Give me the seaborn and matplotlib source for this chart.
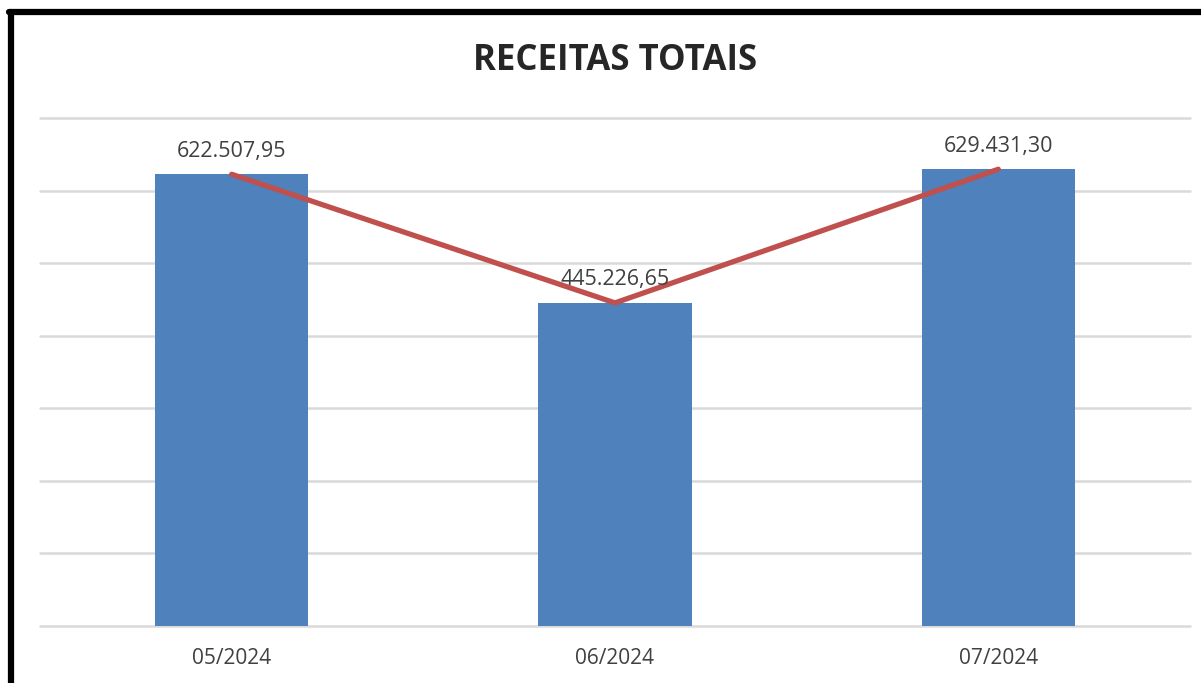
import numpy as np
import seaborn as sns
import matplotlib.pyplot as plt
from matplotlib.lines import Line2D

meses = ["05/2024", "06/2024", "07/2024"]
receitas = [622507.95, 445226.65, 629431.30]

def fmt_br(v):
    # 622507.95 -> 622.507,95
    s = f"{v:,.2f}"
    return s.replace(",", "X").replace(".", ",").replace("X", ".")

sns.set_theme(style="white")
plt.rcParams["font.family"] = ["Open Sans", "DejaVu Sans"]

fig = plt.figure(figsize=(12.01, 6.83), dpi=100)
ax = fig.add_axes([0.0333, 0.0835, 0.9575, 0.7437])

sns.barplot(x=meses, y=receitas, color="#4F81BD", width=0.4, saturation=1,
            linewidth=0, ax=ax, zorder=2)
ax.plot(np.arange(len(meses)), receitas, color="#C0504D", lw=3.8, zorder=3, solid_capstyle="round")

for i, v in enumerate(receitas):
    ax.annotate(fmt_br(v), (i, v), xytext=(0, 9), textcoords="offset points",
                ha="center", va="bottom", fontsize=15.5, color="#404040", zorder=4)

ax.set_ylim(0, 700000)
ax.set_xlim(-0.5, 2.5)
ax.set_yticks(np.arange(0, 700001, 100000))
ax.set_yticklabels([])
ax.yaxis.grid(True, color="#d9d9d9", lw=1.8)
for gl in ax.get_ygridlines():
    gl.set_clip_on(False)
ax.set_axisbelow(True)
ax.tick_params(axis="x", labelsize=15, labelcolor="#404040", length=0, pad=16)
ax.tick_params(axis="y", length=0)
for sp in ax.spines.values():
    sp.set_visible(False)

fig.text(0.512, 0.911, "RECEITAS TOTAIS", ha="center", va="center",
         fontsize=25, fontweight="bold", color="#262626")

# moldura preta (esquerda e topo)
fig.add_artist(Line2D([0.0095, 0.0095], [0, 0.9825], color="black", lw=4.5, transform=fig.transFigure))
fig.add_artist(Line2D([0.0075, 1.0], [0.9825, 0.9825], color="black", lw=4.5, transform=fig.transFigure))

fig.savefig("out.png", dpi=100)
